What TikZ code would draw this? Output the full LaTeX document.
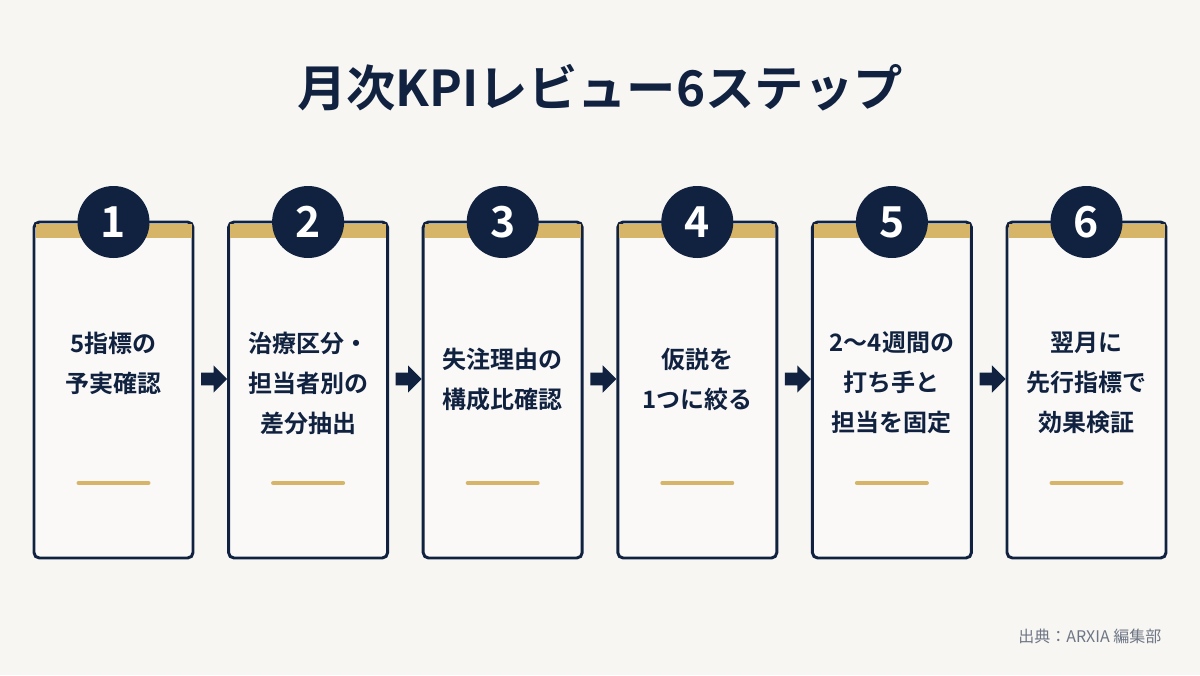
\documentclass[tikz,border=0pt]{standalone}
\usepackage{fontspec}
\setmainfont{Noto Sans CJK JP}[BoldFont={* Bold}]
\usetikzlibrary{shapes.arrows}
\definecolor{navy}{HTML}{10223F}
\definecolor{gold}{HTML}{D6B468}
\definecolor{bg}{HTML}{F7F6F3}
\definecolor{card}{HTML}{FAF9F7}
\definecolor{src}{HTML}{6E7685}
\begin{document}
\begin{tikzpicture}[x=0.75pt,y=-0.75pt,
  cardbox/.style={draw=navy,line width=2.2pt,rounded corners=4pt,fill=card},
  num/.style={circle,fill=navy,minimum size=54pt,inner sep=0pt,text=white,font=\fontsize{32}{32}\selectfont\bfseries},
  lbl/.style={align=center,text=navy,font=\fontsize{18}{30}\selectfont\bfseries},
  arr/.style={single arrow,fill=navy,text height=0pt,text depth=0pt,text width=0pt,inner ysep=4.5pt,inner xsep=0pt,single arrow head extend=5.5pt,minimum height=19.5pt},
  goldline/.style={draw=gold,line width=3pt,line cap=round}]
\fill[bg] (0,0) rectangle (1200,675);
\node[text=navy,font=\fontsize{37}{37}\selectfont\bfseries] (title) at (600,88) {月次KPIレビュー6ステップ};
\foreach \i/\t/\ty in {1/{5指標の\\予実確認}/363,2/{治療区分・\\担当者別の\\差分抽出}/383,3/{失注理由の\\構成比確認}/379,4/{仮説を\\1つに絞る}/379,5/{2〜4週間の\\打ち手と\\担当を固定}/383,6/{翌月に\\先行指標で\\効果検証}/383}{
  \pgfmathsetmacro{\xl}{34+194.6*(\i-1)}
  \pgfmathsetmacro{\xc}{\xl+79.5}
  \draw[cardbox] (\xl,222) rectangle ++(159,336);
  \fill[gold] (\xl+1.5,223.5) rectangle ++(156,14);
  \node[num] (n\i) at (\xc,222) {\i};
  \node[lbl] (t\i) at (\xc,\ty) {\t};
  \coordinate (ga\i) at (\xc-35,483);
  \coordinate (gb\i) at (\xc+35,483);
  \draw[goldline] (ga\i) -- (gb\i);
}
\foreach \i in {1,...,5}{
  \pgfmathsetmacro{\xa}{211+194.6*(\i-1)}
  \node[arr] (a\i) at (\xa,379) {};
}
\node[anchor=east,text=src,font=\fontsize{12}{12}\selectfont] (srcn) at (1166,636) {出典：ARXIA 編集部};
\end{tikzpicture}
\end{document}
